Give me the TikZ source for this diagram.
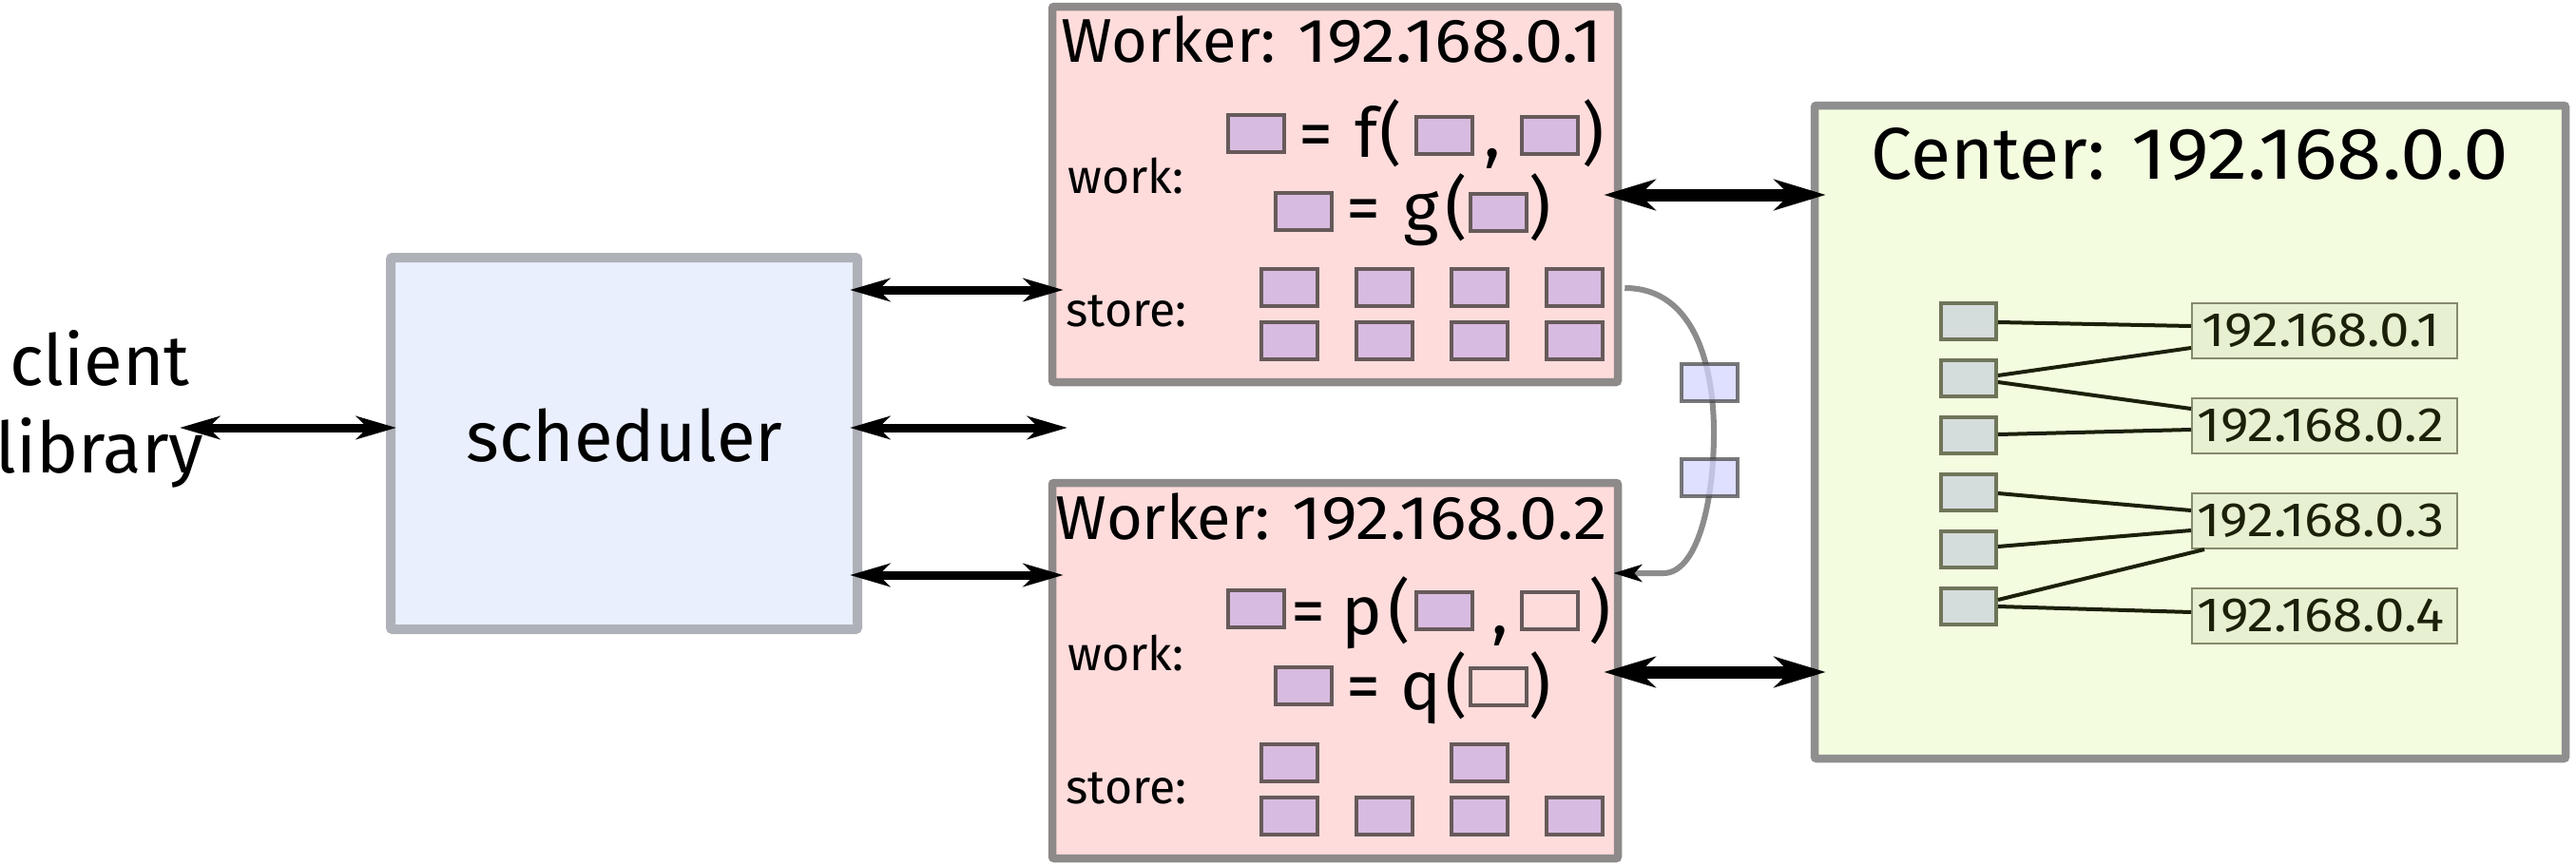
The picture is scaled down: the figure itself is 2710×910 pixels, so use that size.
\documentclass[tikz,border=0pt]{standalone}
\usepackage{fontspec}
\setmainfont{Fira Sans}
\newfontfamily\numf[FakeStretch=1.11]{Fira Sans}
\usetikzlibrary{arrows.meta,calc}
\definecolor{wfill}{HTML}{FFDCDC}
\definecolor{wbord}{HTML}{8E8A8A}
\definecolor{sfill}{HTML}{E9EFFD}
\definecolor{sbord}{HTML}{AEB1B8}
\definecolor{cfill}{HTML}{F3FCDF}
\definecolor{cbord}{HTML}{8F8F8F}
\definecolor{dfill}{HTML}{D8BBE0}
\definecolor{dbord}{HTML}{675A5A}
\definecolor{gfill}{HTML}{D5DCDC}
\definecolor{gbord}{HTML}{6F7559}
\definecolor{ipfill}{HTML}{E7F0D0}
\definecolor{ipbord}{HTML}{858A6C}
\definecolor{netline}{HTML}{1B2109}
\definecolor{bfill}{HTML}{D4D4FF}
\definecolor{curvecol}{HTML}{8C8C8C}
\tikzset{
  bigbox/.style={draw, line width=4.25pt, inner sep=0pt, rounded corners=1pt},
  data/.style={draw=dbord, fill=dfill, line width=2pt, minimum width=29.5pt, minimum height=19.5pt, inner sep=0pt},
  emptydata/.style={data, fill=wfill},
  gbox/.style={draw=gbord, fill=gfill, line width=2pt, minimum width=29pt, minimum height=19pt, inner sep=0pt},
  ipbox/.style={draw=ipbord, fill=ipfill, line width=1pt, minimum width=139.5pt, minimum height=29pt, inner sep=0pt},
  iptext/.style={inner sep=0pt, text=netline, font=\numf\fontsize{25.4}{30}\selectfont},
  bluebox/.style={draw=black!75, fill=bfill, line width=2pt, minimum width=29.5pt, minimum height=19.5pt, inner sep=0pt, fill opacity=0.75, draw opacity=0.7},
  eq/.style={anchor=base, inner sep=0pt, font=\fontsize{36}{42}\selectfont},
  lbl/.style={anchor=base west, inner sep=0pt, font=\fontsize{25}{30}\selectfont},
  wtitle/.style={anchor=base, inner sep=0pt, font=\fontsize{32.5}{38}\selectfont},
  bigtext/.style={anchor=base, inner sep=0pt, font=\fontsize{37.2}{44}\selectfont},
  sarr/.style={line width=4.5pt, {Stealth[length=21pt,width=12pt,inset=6pt]}-{Stealth[length=21pt,width=12pt,inset=6pt]}},
  barr/.style={line width=6.5pt, {Stealth[length=27pt,width=16pt,inset=8pt]}-{Stealth[length=27pt,width=16pt,inset=8pt]}},
  curvearr/.style={draw=curvecol, line width=3pt, -{Stealth[length=15pt,width=9pt,inset=4pt,color=black]}},
  net/.style={draw=netline, line width=2pt},
}
\begin{document}
\begin{tikzpicture}[x=0.5pt,y=-0.5pt]
\useasboundingbox (0,0) rectangle (2710,910);

% big boxes
\node[bigbox, draw=sbord, fill=sfill, line width=5pt, minimum width=245.5pt, minimum height=195.5pt] (sched) at (656.5,466.5) {};
\node[bigbox, draw=wbord, fill=wfill, minimum width=297.5pt, minimum height=197.5pt] (w1) at (1404.5,204.5) {};
\node[bigbox, draw=wbord, fill=wfill, minimum width=297.5pt, minimum height=197.5pt] (w2) at (1404.5,705.5) {};
\node[bigbox, draw=cbord, fill=cfill, minimum width=395pt, minimum height=343.5pt] (center) at (2304,454.5) {};

% texts
\node[bigtext] (sch) at (657,485) {scheduler};
\node[bigtext] (cli) at (105,405) {client};
\node[bigtext] (lib) at (105,497) {library};
\node[wtitle] (w1t) at (1401,65) {Worker: {\numf 192.168.0.1}};
\node[wtitle] (w2t) at (1401,567) {Worker: {\numf 192.168.0.2}};
\node[anchor=base, inner sep=0pt, font=\fontsize{38.5}{44}\selectfont] (ct) at (2304,188) {Center: {\numf 192.168.0.0}};
\node[lbl] (w1w) at (1123,203) {work:};
\node[lbl] (w1s) at (1121,343) {store:};
\node[lbl] (w2w) at (1123,705) {work:};
\node[lbl] (w2s) at (1121,845) {store:};

% worker 1 work
\node[data] (w1r1) at (1321.5,140.5) {};
\node[eq] (w1q1) at (1384,165) {=};
\node[eq] (w1f) at (1438,165) {f};
\node[eq] (w1o1) at (1463,165) {(};
\node[data] (w1a1) at (1519,142) {};
\node[eq] (w1c1) at (1570,165) {,};
\node[data] (w1a2) at (1630,142) {};
\node[eq] (w1p1) at (1676,165) {)};
\node[data] (w1r2) at (1371.5,222) {};
\node[eq] (w1q2) at (1434,243) {=};
\node[eq] (w1g) at (1495,243) {g};
\node[eq] (w1o2) at (1532,243) {(};
\node[data] (w1a3) at (1576,223) {};
\node[eq] (w1p2) at (1620,243) {)};
% worker 1 store
\foreach \i/\x in {1/1356,2/1456,3/1556,4/1656}{
  \node[data] (w1sa\i) at (\x,302.5) {};
  \node[data] (w1sb\i) at (\x,358) {};
}

% worker 2 work
\node[data] (w2r1) at (1321.5,640.5) {};
\node[eq] (w2q1) at (1376.5,667) {=};
\node[eq] (w2p) at (1433,667) {p};
\node[eq] (w2o1) at (1472,667) {(};
\node[data] (w2a1) at (1519,642) {};
\node[eq] (w2c1) at (1578,667) {,};
\node[emptydata] (w2a2) at (1630,642) {};
\node[eq] (w2p1) at (1683,667) {)};
\node[data] (w2r2) at (1371.5,721.5) {};
\node[eq] (w2q2) at (1434,746) {=};
\node[eq] (w2qq) at (1495,746) {q};
\node[eq] (w2o2) at (1532,746) {(};
\node[emptydata] (w2a3) at (1576,722) {};
\node[eq] (w2p2) at (1620,746) {)};
% worker 2 store
\node[data] (w2sa1) at (1356,802) {};
\node[data] (w2sa3) at (1556,802) {};
\foreach \i/\x in {1/1356,2/1456,3/1556,4/1656}{
  \node[data] (w2sb\i) at (\x,858.5) {};
}

% center network
\foreach \i/\y in {1/338,2/398,3/458,4/518,5/578,6/638}{
  \node[gbox] (g\i) at (2071,\y) {};
}
\foreach \i/\y in {1/348,2/448,3/548,4/648}{
  \node[ipbox] (ip\i) at (2445.5,\y) {};
  \node[iptext] (ipt\i) at (2441.5,\y) {192.168.0.\i};
}
\draw[net] ($(g1.east)+(0,1)$) -- ($(ip1.west)+(0,-5)$);
\draw[net] ($(g2.east)+(0,-3)$) -- ($(ip1.west)+(0,18)$);
\draw[net] ($(g2.east)+(0,4)$) -- ($(ip2.west)+(0,-18)$);
\draw[net] ($(g3.east)+(0,-1)$) -- ($(ip2.west)+(0,4)$);
\draw[net] ($(g4.east)+(0,1)$) -- ($(ip3.west)+(0,-11)$);
\draw[net] ($(g5.east)+(0,-3)$) -- ($(ip3.west)+(0,10)$);
\draw[net] ($(g6.east)+(0,-7)$) -- ($(ip3.south west)+(14,0)$);
\draw[net] ($(g6.east)+(0,0)$) -- ($(ip4.west)+(0,-4)$);

% arrows scheduler
\coordinate (cl) at (189,450);
\coordinate (mid) at (1123,450);
\draw[sarr] (cl) -- ($(sched.west)+(11,-16.5)$);
\draw[sarr] ($(sched.east)+(-13,-161.5)$) -- ($(w1.west)+(16,100.5)$);
\draw[sarr] ($(sched.east)+(-13,-16.5)$) -- (mid);
\draw[sarr] ($(sched.east)+(-13,138.5)$) -- ($(w2.west)+(16,-100.5)$);

% arrows worker-center
\draw[barr] ($(w1.east)+(-19,0.5)$) -- ($(center.west)+(16,-249.5)$);
\draw[barr] ($(w2.east)+(-19,1.5)$) -- ($(center.west)+(16,252.5)$);

% transfer curve
\draw[curvearr] ($(w1.east)+(3,98.5)$) .. controls (1785,303) and (1803,390) .. (1803,455)
  .. controls (1803,530) and (1785,603) .. (1750,603) -- ($(w2.east)+(-9,-102.5)$);
\node[bluebox] (bx1) at (1798.5,402.5) {};
\node[bluebox] (bx2) at (1798.5,502.5) {};
\end{tikzpicture}
\end{document}
